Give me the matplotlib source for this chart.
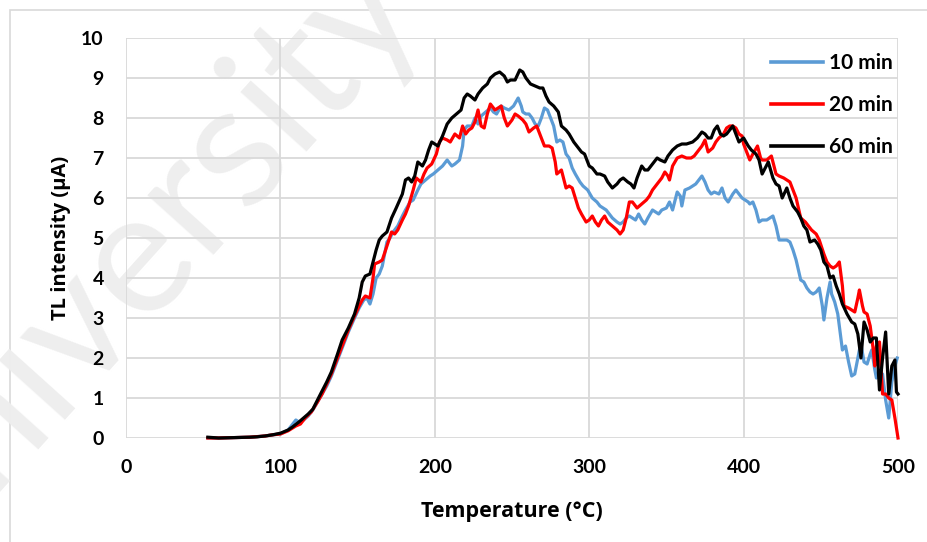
import matplotlib
matplotlib.use("Agg")
import matplotlib.pyplot as plt
from matplotlib.patches import Rectangle

plt.rcParams['font.family'] = ['Lato', 'DejaVu Sans']

# ---------------- data ----------------
t60 = [53, 60, 70, 80, 85, 90, 95, 100, 105, 108, 112, 115, 118, 121, 124, 126, 130, 133, 137, 140,
       144, 148, 151, 153, 155, 158, 160, 162, 164, 166, 169, 172, 175, 179, 181, 183, 185, 187, 189, 192,
       194, 196, 198, 200, 202, 205, 208, 211, 214, 217, 219, 221, 223, 226, 228, 231, 234, 236, 239, 242,
       245, 247, 249, 252, 255, 257, 259, 262, 265, 268, 270, 272, 274, 277, 280, 282, 285, 287, 290, 293,
       295, 297, 300, 302, 305, 307, 310, 312, 315, 318, 320, 322, 325, 327, 329, 331, 334, 336, 338, 341,
       344, 346, 349, 351, 354, 357, 360, 363, 367, 370, 373, 375, 377, 379, 381, 383, 385, 387, 389, 391,
       393, 395, 397, 400, 403, 405, 408, 410, 412, 414, 416, 419, 421, 423, 425, 428, 430, 432, 435, 437,
       439, 441, 443, 446, 448, 450, 452, 454, 456, 458, 460, 462, 464, 467, 470, 472, 474, 476, 478, 480,
       482, 484, 486, 488, 490, 492, 494, 496, 498, 499, 500]
v60 = [0.02, 0.0, 0.01, 0.02, 0.03, 0.05, 0.08, 0.12, 0.2, 0.28, 0.4, 0.5, 0.6, 0.72, 0.95, 1.1, 1.4, 1.65, 2.1, 2.45,
       2.75, 3.1, 3.5, 3.9, 4.05, 4.1, 4.4, 4.7, 4.95, 5.05, 5.15, 5.5, 5.75, 6.1, 6.45, 6.5, 6.4, 6.55, 6.9, 6.8,
       6.95, 7.2, 7.4, 7.35, 7.3, 7.55, 7.85, 8.0, 8.1, 8.2, 8.5, 8.6, 8.55, 8.45, 8.6, 8.75, 8.85, 9.0, 9.1, 9.15,
       9.05, 8.9, 8.95, 8.95, 9.2, 9.15, 9.0, 8.85, 8.8, 8.75, 8.75, 8.55, 8.4, 8.3, 8.15, 7.8, 7.7, 7.6, 7.4, 7.25,
       7.15, 7.1, 6.8, 6.75, 6.6, 6.6, 6.55, 6.4, 6.25, 6.35, 6.45, 6.5, 6.4, 6.35, 6.25, 6.5, 6.8, 6.7, 6.7, 6.85,
       7.0, 6.95, 6.9, 7.05, 7.2, 7.3, 7.35, 7.35, 7.4, 7.5, 7.65, 7.6, 7.5, 7.5, 7.7, 7.8, 7.6, 7.55, 7.6, 7.7,
       7.8, 7.6, 7.4, 7.5, 7.3, 7.2, 7.1, 6.95, 6.6, 6.75, 6.9, 6.5, 6.35, 6.3, 6.0, 6.25, 6.0, 5.8, 5.65, 5.5,
       5.3, 5.2, 4.9, 4.95, 4.85, 4.7, 4.4, 4.3, 4.0, 4.05, 3.8, 3.6, 3.35, 3.1, 2.9, 2.85, 2.6, 2.0, 2.9, 2.7,
       2.4, 2.5, 2.5, 1.2, 2.0, 2.65, 1.1, 1.8, 1.95, 1.15, 1.1]

t20 = [53, 60, 70, 80, 90, 95, 100, 105, 110, 113, 116, 120, 124, 127, 130, 133, 137, 140, 144, 148,
       151, 153, 155, 158, 160, 161, 164, 166, 169, 172, 174, 176, 179, 181, 183, 186, 188, 191, 193, 195,
       198, 201, 203, 205, 208, 210, 213, 216, 218, 220, 222, 224, 226, 228, 230, 232, 234, 236, 239, 241,
       243, 245, 247, 250, 252, 254, 257, 259, 261, 264, 266, 268, 271, 274, 276, 278, 279, 282, 285, 287,
       289, 291, 293, 295, 298, 300, 302, 304, 306, 308, 310, 312, 315, 318, 320, 322, 324, 326, 328, 331,
       334, 337, 339, 341, 344, 347, 349, 351, 352, 354, 357, 360, 363, 366, 368, 371, 373, 375, 377, 380,
       382, 384, 387, 389, 391, 393, 395, 397, 399, 400, 402, 404, 406, 409, 411, 412, 415, 418, 421, 423,
       426, 430, 432, 434, 437, 440, 444, 447, 449, 452, 454, 456, 458, 460, 462, 464, 465, 468, 470, 472,
       474, 475, 477, 478, 480, 482, 484, 485, 486, 488, 490, 492, 494, 496, 498, 500]
v20 = [0.0, 0.0, 0.01, 0.02, 0.05, 0.08, 0.1, 0.18, 0.3, 0.35, 0.5, 0.65, 0.9, 1.1, 1.35, 1.6, 2.0, 2.3, 2.7, 3.05,
       3.3, 3.45, 3.55, 3.5, 4.0, 4.35, 4.4, 4.45, 4.8, 5.15, 5.1, 5.2, 5.45, 5.6, 5.8, 6.2, 6.5, 6.4, 6.6, 6.75,
       6.85, 7.1, 7.4, 7.5, 7.45, 7.4, 7.6, 7.5, 7.8, 7.6, 7.7, 7.75, 7.9, 8.2, 7.8, 7.75, 8.1, 8.35, 8.2, 8.25,
       8.3, 8.0, 7.8, 7.95, 8.1, 8.05, 7.95, 7.85, 7.65, 7.75, 7.8, 7.6, 7.3, 7.3, 7.25, 6.9, 6.6, 6.7, 6.25, 6.3,
       6.25, 6.0, 5.75, 5.6, 5.4, 5.45, 5.55, 5.4, 5.3, 5.45, 5.55, 5.4, 5.3, 5.2, 5.1, 5.2, 5.5, 5.9, 5.9, 5.75,
       5.85, 5.95, 6.05, 6.2, 6.35, 6.5, 6.65, 6.55, 6.45, 6.8, 7.0, 7.05, 7.0, 7.0, 7.05, 7.2, 7.3, 7.45, 7.15, 7.25,
       7.4, 7.5, 7.6, 7.75, 7.8, 7.8, 7.75, 7.6, 7.55, 7.35, 7.15, 6.95, 7.1, 7.3, 7.0, 6.95, 6.95, 7.05, 6.6, 6.55,
       6.5, 6.4, 6.2, 6.0, 5.5, 5.4, 5.2, 5.1, 4.95, 4.6, 4.4, 4.3, 4.25, 4.3, 4.4, 3.8, 3.3, 3.25, 3.2, 3.15,
       3.5, 3.7, 3.3, 3.15, 3.1, 2.8, 2.2, 1.8, 2.3, 2.4, 1.1, 1.1, 1.0, 0.95, 0.5, 0.0]

t10 = [53, 60, 70, 80, 90, 95, 100, 105, 108, 110, 112, 115, 118, 121, 124, 127, 130, 133, 137, 140,
       144, 148, 151, 154, 156, 158, 160, 162, 164, 166, 169, 171, 173, 176, 179, 181, 184, 186, 189, 191,
       194, 197, 199, 202, 205, 208, 211, 213, 216, 218, 219, 221, 224, 226, 228, 230, 233, 236, 238, 240,
       243, 245, 248, 251, 254, 256, 257, 259, 261, 263, 265, 267, 269, 271, 273, 275, 277, 279, 281, 283,
       285, 287, 289, 291, 294, 296, 299, 302, 305, 307, 309, 311, 313, 315, 318, 320, 322, 324, 326, 328,
       330, 332, 334, 336, 338, 341, 343, 345, 347, 350, 352, 354, 357, 359, 360, 362, 365, 367, 369, 371,
       373, 375, 377, 379, 381, 384, 386, 388, 390, 393, 395, 397, 399, 401, 403, 404, 406, 408, 410, 412,
       415, 417, 419, 421, 423, 426, 428, 430, 432, 434, 437, 439, 441, 443, 445, 447, 449, 451, 452, 454,
       456, 457, 459, 461, 463, 464, 466, 468, 470, 472, 473, 475, 476, 478, 480, 482, 483, 485, 486, 488,
       490, 492, 494, 496, 498, 499.5]
v10 = [0.0, 0.0, 0.01, 0.02, 0.05, 0.08, 0.1, 0.2, 0.35, 0.45, 0.4, 0.45, 0.55, 0.7, 0.9, 1.1, 1.3, 1.55, 1.95, 2.25,
       2.65, 3.0, 3.25, 3.45, 3.5, 3.35, 3.6, 4.0, 4.1, 4.3, 4.9, 5.0, 5.15, 5.3, 5.55, 5.7, 5.9, 5.95, 6.2, 6.35,
       6.45, 6.55, 6.6, 6.7, 6.8, 6.95, 6.8, 6.85, 6.95, 7.3, 7.7, 7.8, 7.8, 8.0, 7.85, 8.05, 8.15, 8.25, 8.15, 8.1,
       8.3, 8.25, 8.2, 8.3, 8.5, 8.3, 8.15, 8.1, 8.1, 8.0, 7.85, 7.8, 8.0, 8.25, 8.2, 8.0, 7.8, 7.4, 7.45, 7.4,
       7.1, 7.0, 6.75, 6.6, 6.4, 6.3, 6.2, 6.0, 5.9, 5.8, 5.75, 5.7, 5.6, 5.5, 5.4, 5.35, 5.4, 5.5, 5.55, 5.5,
       5.45, 5.6, 5.45, 5.35, 5.5, 5.7, 5.65, 5.6, 5.7, 5.75, 5.9, 5.7, 6.15, 6.05, 5.8, 6.2, 6.25, 6.3, 6.35, 6.45,
       6.55, 6.4, 6.2, 6.1, 6.15, 6.1, 6.25, 6.0, 5.9, 6.1, 6.2, 6.1, 6.0, 5.95, 5.9, 5.85, 5.9, 5.7, 5.4, 5.45,
       5.45, 5.5, 5.55, 5.3, 4.95, 4.95, 4.95, 4.9, 4.7, 4.45, 3.95, 3.9, 3.75, 3.65, 3.6, 3.65, 3.75, 3.3, 2.95, 3.5,
       3.9, 3.6, 3.4, 3.1, 2.5, 2.2, 2.3, 1.9, 1.55, 1.6, 1.8, 2.2, 2.35, 1.9, 1.85, 2.1, 2.2, 1.7, 1.5, 1.55,
       1.6, 0.95, 0.5, 1.4, 1.8, 2.0]

labels = ['10 min', '20 min', '60 min']
colors = ['#5B9BD5', '#FF0000', '#000000']
xticks = [0, 100, 200, 300, 400, 500]
yticks = list(range(0, 11))

# ---------------- figure ----------------
W, H = 927, 542
fig = plt.figure(figsize=(W / 100, H / 100), dpi=100)
ax = fig.add_axes([126 / W, 1 - 438 / H, (898 - 126) / W, (438 - 38) / H])
ax.set_facecolor('none')

# outer chart frame
fig.patches.append(Rectangle((10 / W, -0.1), 1.2, 1 - 10 / H + 0.1, transform=fig.transFigure,
                             fill=False, edgecolor='#D9D9D9', linewidth=1.2, zorder=-2))

# watermark (partly outside the picture, as in the reference), drawn beneath the axes
fig.text(126 / W, 1 - 262 / H, 'University', rotation=48, fontsize=125, color='#EEEEEE',
         ha='center', va='center', zorder=-1, family=['Lato', 'DejaVu Sans'])

series = [(t10, v10), (t20, v20), (t60, v60)]
for (t, v), lab, col in zip(series, labels, colors):
    ax.plot(t, v, color=col, linewidth=2.3, label=lab, solid_joinstyle='round', clip_on=False)

ax.set_xlim(0, 500)
ax.set_ylim(0, 10)
ax.set_xticks(xticks)
ax.set_yticks(yticks)
ax.grid(True, color='#D9D9D9', linewidth=1.3)
ax.set_axisbelow(True)
for s in ax.spines.values():
    s.set_visible(False)
ax.tick_params(axis='both', length=0, labelsize=14)
ax.tick_params(axis='x', pad=15)
ax.tick_params(axis='y', pad=16)
for lbl in ax.get_xticklabels() + ax.get_yticklabels():
    lbl.set_fontweight('bold')

title_font = ['Open Sans', 'DejaVu Sans']
ax.set_xlabel('Temperature (°C)', fontsize=15.5, fontweight='bold', labelpad=18, family=title_font)
ax.set_ylabel('TL intensity (µA)', fontsize=14.5, fontweight='bold', labelpad=7, family=title_font)

leg = ax.legend(loc='upper right', bbox_to_anchor=(0.9935, 0.962), frameon=False,
                prop={'weight': 'bold', 'size': 15}, handlelength=2.5, handletextpad=0.3,
                labelspacing=1.05, borderpad=0, borderaxespad=0)
for h in leg.get_lines():
    h.set_linewidth(2.6)

fig.savefig('out.png', dpi=100)
